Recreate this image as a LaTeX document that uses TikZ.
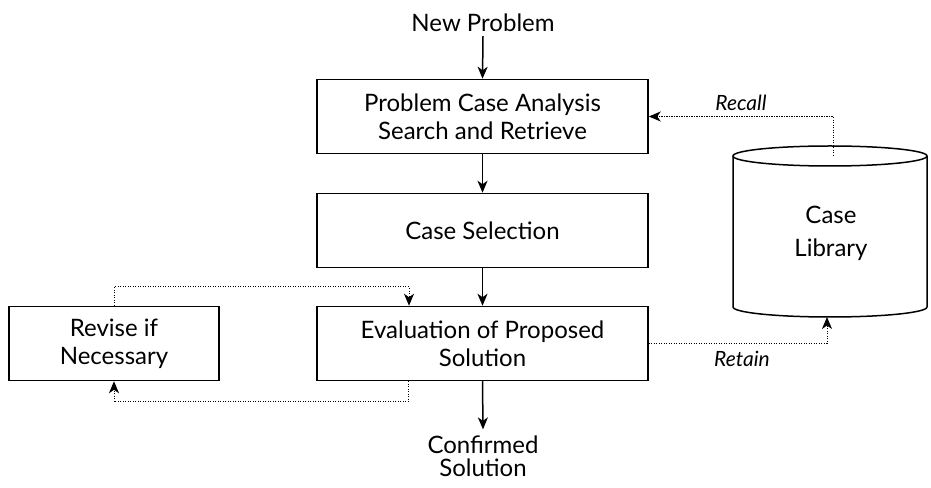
\documentclass[tikz,border=0pt]{standalone}
\usepackage{fontspec}
\setmainfont{Lato}
\usetikzlibrary{arrows.meta,calc}
\tikzset{
  procbox/.style={draw, line width=1.5pt, minimum width=331pt, minimum height=74pt, align=center, inner sep=0pt, font=\fontsize{24}{28}\selectfont},
  plain/.style={align=center, inner sep=2pt, font=\fontsize{24}{23}\selectfont},
  flowarrow/.style={line width=1.5pt, -{Stealth[length=12pt,width=10pt,inset=3.5pt]}},
  dotarrow/.style={line width=1pt, dash pattern=on 1.2pt off 1.3pt, -{Stealth[length=12pt,width=10pt,inset=3.5pt]}},
  lbl/.style={font=\fontsize{21}{24}\selectfont\itshape, inner sep=0pt}
}
\begin{document}
\begin{tikzpicture}[x=1pt,y=1pt]
\useasboundingbox (0,0) rectangle (931,487);

% main column of steps
\node[plain] (newp) at (483,464) {New Problem};
\node[procbox] (analysis) at (482.5,370.5) {Problem Case Analysis\\Search and Retrieve};
\node[procbox] (select) at (482.5,256.5) {Case Selection};
\node[procbox] (eval) at (482.5,143.5) {Evaluation of Proposed\\Solution};
\node[procbox, minimum width=210pt] (revise) at (114,143.5) {Revise if\\Necessary};
\node[plain] (confirmed) at (483,31) {Confirmed\\Solution};

% case library drawn as a cylinder
\draw[line width=1.5pt]
  (733,331) -- (733,180)
  arc[start angle=180, end angle=360, x radius=97, y radius=10]
  -- (927,331);
\draw[line width=1.5pt] (830,331) ellipse[x radius=97, y radius=10];
\node[plain, font=\fontsize{24}{33}\selectfont] (library) at (831,254) {Case\\Library};
\coordinate (libtop) at (833,331);
\coordinate (libbot) at (827,170);

% solid flow
\draw[flowarrow] ($(newp.south)+(0,-2)$) -- (analysis.north);
\draw[flowarrow] (analysis.south) -- (select.north);
\draw[flowarrow] (select.south) -- (eval.north);
\draw[flowarrow] (eval.south) -- ($(confirmed.north)+(0,4)$);

% dotted feedback loops
\coordinate (fbtop) at (409,200);
\coordinate (fbbot) at (408,85);
\draw[dotarrow] (revise.north) |- (fbtop) -- (fbtop |- eval.north);
\draw[dotarrow] (eval.south -| fbbot) -- (fbbot) -| (revise.south);

\draw[dotarrow] (libtop) |- (analysis.east);
\node[lbl] (recall) at (741,384) {Recall};
\draw[dotarrow] (eval.east) -| (libbot);
\node[lbl] (retain) at (742,128) {Retain};
\end{tikzpicture}
\end{document}
